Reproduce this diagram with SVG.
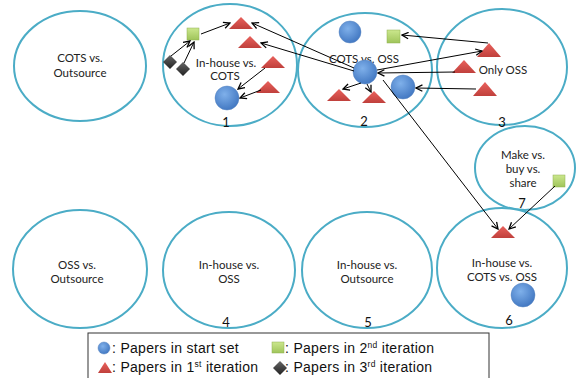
<svg xmlns="http://www.w3.org/2000/svg" width="577" height="378" viewBox="0 0 577 378">
<defs>
  <radialGradient id="gBlue" cx="0.4" cy="0.35" r="0.7">
    <stop offset="0" stop-color="#7fb0ea"/>
    <stop offset="1" stop-color="#3f75c0"/>
  </radialGradient>
  <linearGradient id="gRed" x1="0" y1="0" x2="0" y2="1">
    <stop offset="0" stop-color="#e9615c"/>
    <stop offset="1" stop-color="#c0403c"/>
  </linearGradient>
  <linearGradient id="gGreen" x1="0" y1="0" x2="0" y2="1">
    <stop offset="0" stop-color="#cbe78d"/>
    <stop offset="1" stop-color="#9fc45a"/>
  </linearGradient>
  <linearGradient id="gBlack" x1="0" y1="0" x2="0" y2="1">
    <stop offset="0" stop-color="#666"/>
    <stop offset="1" stop-color="#222"/>
  </linearGradient>
  <marker id="arr" viewBox="0 0 10 10" refX="9" refY="5" markerWidth="8" markerHeight="8" markerUnits="userSpaceOnUse" orient="auto">
    <path d="M1,1 L9,5 L1,9" fill="none" stroke="#000" stroke-width="1.6"/>
  </marker>
</defs>
<style>
  .area { fill: #fff; stroke: #4bacc6; stroke-width: 2; }
  .lbl { font-family: "Lato", "Liberation Sans", sans-serif; font-size: 11.5px; fill: #222; text-anchor: middle; }
  .num { font-family: "Lato", "Liberation Sans", sans-serif; font-size: 13px; fill: #111; text-anchor: middle; }
  .leg { font-family: "Liberation Sans", "Lato", sans-serif; font-size: 14px; letter-spacing: 0.3px; fill: #111; }
  .blue { fill: url(#gBlue); stroke: #5b86c0; stroke-width: 0.5; }
  .red { fill: url(#gRed); }
  .green { fill: url(#gGreen); stroke: #8fb050; stroke-width: 0.5; }
  .black { fill: url(#gBlack); }
  .conn line { stroke: #000; stroke-width: 1; marker-end: url(#arr); }
</style>
<rect width="577" height="378" fill="#fff"/>

<g id="area-cots-outsource">
  <ellipse class="area" cx="80" cy="66" rx="66" ry="55"/>
  <text class="lbl" x="80" y="62">COTS vs.</text>
  <text class="lbl" x="80" y="77">Outsource</text>
</g>
<g id="area-1">
  <ellipse class="area" cx="230" cy="65" rx="67" ry="61"/>
  <text class="lbl" x="226" y="67">In-house vs.</text>
  <text class="lbl" x="225" y="80">COTS</text>
  <text class="num" x="226" y="127">1</text>
</g>
<g id="area-2">
  <ellipse class="area" cx="365" cy="70" rx="67" ry="57"/>
  <text class="lbl" x="364" y="63">COTS vs. OSS</text>
  <text class="num" x="364" y="126">2</text>
</g>
<g id="area-3">
  <ellipse class="area" cx="502" cy="67" rx="65" ry="58"/>
  <text class="lbl" x="503" y="74">Only OSS</text>
  <text class="num" x="502" y="127">3</text>
</g>
<g id="area-7">
  <ellipse class="area" cx="525" cy="168" rx="50" ry="42"/>
  <text class="lbl" x="523" y="159">Make vs.</text>
  <text class="lbl" x="523" y="173">buy vs.</text>
  <text class="lbl" x="523" y="187">share</text>
  <text class="num" x="522" y="208">7</text>
</g>
<g id="area-6">
  <ellipse class="area" cx="502" cy="268" rx="65" ry="60"/>
  <text class="lbl" x="502" y="267">In-house vs.</text>
  <text class="lbl" x="502" y="281">COTS vs. OSS</text>
  <text class="num" x="509" y="325">6</text>
</g>
<g id="area-oss-outsource">
  <ellipse class="area" cx="80" cy="269" rx="67" ry="59"/>
  <text class="lbl" x="77" y="269">OSS vs.</text>
  <text class="lbl" x="77" y="283">Outsource</text>
</g>
<g id="area-4">
  <ellipse class="area" cx="229" cy="270" rx="66" ry="58"/>
  <text class="lbl" x="229" y="269">In-house vs.</text>
  <text class="lbl" x="229" y="283">OSS</text>
  <text class="num" x="226" y="327">4</text>
</g>
<g id="area-5">
  <ellipse class="area" cx="367" cy="270" rx="65" ry="58"/>
  <text class="lbl" x="367" y="269">In-house vs.</text>
  <text class="lbl" x="367" y="283">Outsource</text>
  <text class="num" x="368" y="327">5</text>
</g>

<!-- papers -->
<g id="p1-green"><rect class="green" x="187" y="28" width="12" height="12"/></g>
<g id="p1-black-a"><path class="black" d="M170,55 L177,62 L170,69 L163,62 Z"/></g>
<g id="p1-black-b"><path class="black" d="M183,62 L190,69 L183,76 L176,69 Z"/></g>
<g id="p1-red-a"><path class="red" d="M241,17 L253,29 L229,29 Z"/></g>
<g id="p1-red-b"><path class="red" d="M250,36 L262,48 L238,48 Z"/></g>
<g id="p1-red-c"><path class="red" d="M273,56 L285,68 L261,68 Z"/></g>
<g id="p1-red-d"><path class="red" d="M268,81 L280,93 L256,93 Z"/></g>
<g id="p1-blue"><circle class="blue" cx="227" cy="98" r="12"/></g>

<g id="p2-blue-a"><circle class="blue" cx="350" cy="32" r="11"/></g>
<g id="p2-green"><rect class="green" x="387" y="30" width="13" height="13"/></g>
<g id="p2-blue-b"><circle class="blue" cx="365" cy="72" r="12"/></g>
<g id="p2-blue-c"><circle class="blue" cx="403" cy="87" r="12"/></g>
<g id="p2-red-a"><path class="red" d="M339,89 L351,101 L327,101 Z"/></g>
<g id="p2-red-b"><path class="red" d="M374,91 L386,103 L362,103 Z"/></g>

<g id="p3-red-a"><path class="red" d="M489,43 L501,57 L477,57 Z"/></g>
<g id="p3-red-b"><path class="red" d="M464,60 L476,73 L452,73 Z"/></g>
<g id="p3-red-c"><path class="red" d="M485,82 L497,96 L473,96 Z"/></g>

<g id="p7-green"><rect class="green" x="553" y="175" width="12" height="12"/></g>
<g id="p6-red"><path class="red" d="M503,226 L515,238 L491,238 Z"/></g>
<g id="p6-blue"><circle class="blue" cx="523" cy="295" r="12"/></g>

<g id="connectors" class="conn">
  <line x1="171" y1="56" x2="190" y2="41"/>
  <line x1="184" y1="63" x2="194" y2="42"/>
  <line x1="201" y1="34" x2="230" y2="23"/>
  <line x1="354" y1="68" x2="252" y2="23"/>
  <line x1="354" y1="71" x2="261" y2="43"/>
  <line x1="265" y1="68" x2="238" y2="89"/>
  <line x1="261" y1="90" x2="240" y2="98"/>
  <line x1="361" y1="83" x2="343" y2="89"/>
  <line x1="367" y1="84" x2="371" y2="92"/>
  <line x1="488" y1="43" x2="402" y2="35"/>
  <line x1="377" y1="70" x2="482" y2="51"/>
  <line x1="455" y1="72" x2="378" y2="73"/>
  <line x1="476" y1="89" x2="416" y2="88"/>
  <line x1="383" y1="80" x2="498" y2="229"/>
  <line x1="555" y1="186" x2="509" y2="229"/>
</g>

<g id="legend">
  <rect x="88" y="333" width="401" height="50" fill="#fff" stroke="#333" stroke-width="1"/>
  <ellipse class="blue" cx="104" cy="348" rx="6" ry="6"/>
  <text class="leg" x="112" y="353">: Papers in start set</text>
  <rect class="green" x="272" y="342" width="12" height="11"/>
  <text class="leg" x="285" y="353">: Papers in 2<tspan font-size="8.5" dy="-5">nd</tspan><tspan dy="5"> iteration</tspan></text>
  <path class="red" d="M105,362 L112,373 L98,373 Z"/>
  <text class="leg" x="112" y="372">: Papers in 1<tspan font-size="8.5" dy="-5">st</tspan><tspan dy="5"> iteration</tspan></text>
  <path class="black" d="M280,361 L287,368 L280,375 L273,368 Z"/>
  <text class="leg" x="285" y="372">: Papers in 3<tspan font-size="8.5" dy="-5">rd</tspan><tspan dy="5"> iteration</tspan></text>
</g>
</svg>
